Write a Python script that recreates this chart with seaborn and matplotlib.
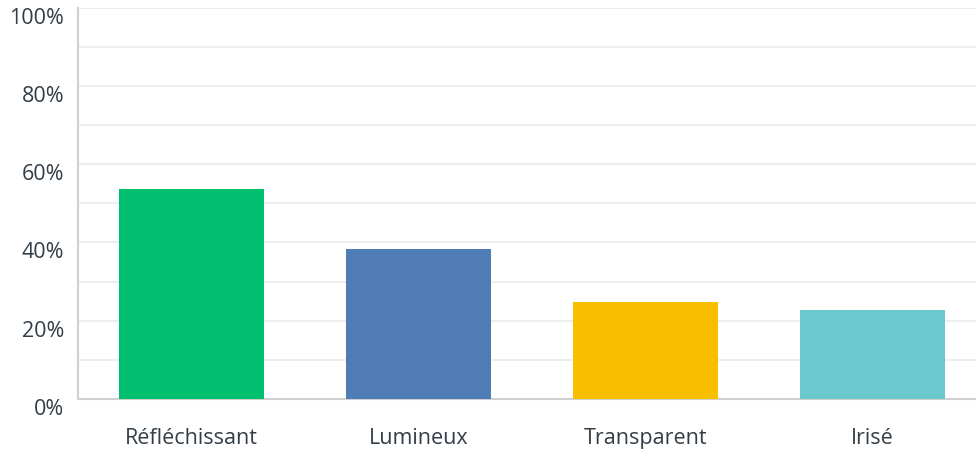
import matplotlib
matplotlib.use("Agg")
import matplotlib.pyplot as plt
import matplotlib.transforms as mtransforms
import seaborn as sns
import pandas as pd
from matplotlib.ticker import MultipleLocator, FuncFormatter

# data
categories = ["Réfléchissant", "Lumineux", "Transparent", "Irisé"]
values = [53.7, 38.4, 24.9, 22.8]
colors = ["#00BF6F", "#507CB6", "#F9BE00", "#6BC8CD"]

df = pd.DataFrame({"cat": categories, "val": values})

sns.set_style("white")
plt.rcParams["font.family"] = ["Open Sans", "DejaVu Sans"]

fig = plt.figure(figsize=(9.76, 4.51), dpi=100)
ax = fig.add_axes([78 / 976, 52 / 451, (986 - 78) / 976, (399.3 - 7.8) / 451])

sns.barplot(data=df, x="cat", y="val", hue="cat", palette=colors,
            saturation=1, width=0.643, linewidth=0, legend=False, ax=ax, zorder=3)

ax.set_ylim(0, 100)
ax.set_xlim(-0.5, 3.5)
ax.yaxis.set_major_locator(MultipleLocator(20))
ax.yaxis.set_minor_locator(MultipleLocator(10))
ax.yaxis.set_major_formatter(FuncFormatter(lambda v, p: f"{v:.0f}%"))
ax.grid(axis="y", which="both", color="#EEEEEE", linewidth=1.5, zorder=0)
ax.set_axisbelow(True)

for s in ["top", "right"]:
    ax.spines[s].set_visible(False)
for s in ["left", "bottom"]:
    ax.spines[s].set_color("#D0D0D0")
    ax.spines[s].set_linewidth(1.5)

ax.tick_params(axis="both", length=0, labelsize=15.5, colors="#333E48")
ax.tick_params(axis="y", pad=10)
ax.tick_params(axis="x", pad=21)
ax.set_xlabel("")
ax.set_ylabel("")

# y labels sit a little below their gridlines in the original
shift = mtransforms.ScaledTranslation(0, -8 / 100, fig.dpi_scale_trans)
for lab in ax.get_yticklabels():
    lab.set_transform(lab.get_transform() + shift)

fig.savefig("out.png", dpi=100)
